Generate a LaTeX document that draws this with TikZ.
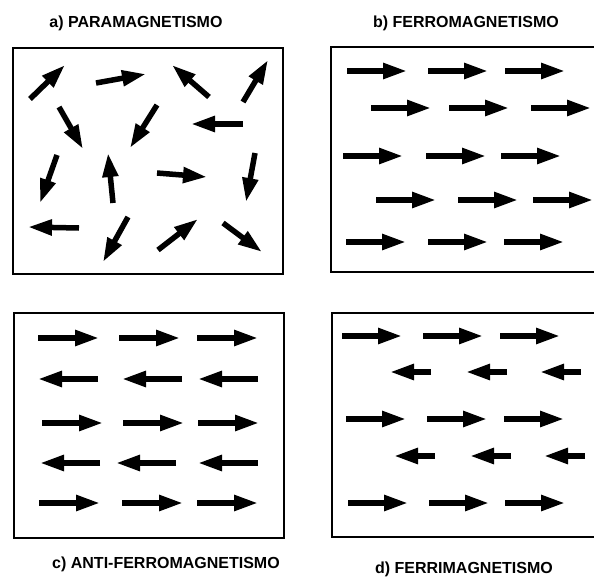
\documentclass[tikz,border=0pt]{standalone}
\usepackage{fontspec}
\setsansfont{Liberation Sans}
\usetikzlibrary{arrows.meta}

\begin{document}
\begin{tikzpicture}[
  x=1pt,y=-1pt,
  title/.style={font=\sffamily\bfseries\fontsize{16}{19}\selectfont,inner sep=0pt},
  frame/.style={line width=1.8pt},
  spin/.style={line width=5.5pt,-{Triangle[length=24pt,width=15pt]}}
]
\useasboundingbox (0,0) rectangle (594,578);
% titles
\node[title] (ta) at (136,23) {a) PARAMAGNETISMO};
\node[title] (tb) at (466,23) {b) FERROMAGNETISMO};
\node[title] (tc) at (166,564) {c) ANTI-FERROMAGNETISMO};
\node[title] (td) at (464,569) {d) FERRIMAGNETISMO};
% frames (b and d run off the right edge)
\draw[frame] (13,48) rectangle (283,274);
\draw[frame] (594,47) -- (331,47) -- (331,272) -- (594,272);
\draw[frame] (14,313) rectangle (284,538);
\draw[frame] (594,313) -- (332,313) -- (332,537) -- (594,537);
% a) random spins
\foreach \xa/\ya/\xb/\yb in {30/99/65/65, 96/83/146/74, 209/97/172/65, 243/102/268/60,
  59/107/83/149, 157/105/130/148, 243/124/191/124,
  57/155/40/203, 113/203/108/153, 157/173/207/177, 255/153/246/202,
  79/228/28/227, 128/217/103/262, 158/250/198/219, 223/223/262/252}
  \draw[spin] (\xa,\ya) -- (\xb,\yb);
% b) all parallel
\foreach \y/\xa/\xb/\xc in {71/347/428/505, 108/371/449/531, 156/343/426/501, 200/376/458/533, 242/346/428/504}
  \foreach \x in {\xa,\xb,\xc}
    \draw[spin] (\x,\y) -- ++(60,0);
% c) alternating rows
\foreach \y/\xa/\xb/\xc in {338/38/119/197, 423/42/123/198, 503/39/122/197}
  \foreach \x in {\xa,\xb,\xc}
    \draw[spin] (\x,\y) -- ++(61,0);
\foreach \y/\xa/\xb/\xc in {379/98/182/258, 463/100/176/258}
  \foreach \x in {\xa,\xb,\xc}
    \draw[spin] (\x,\y) -- ++(-60,0);
% d) unequal alternating rows
\foreach \y/\xa/\xb/\xc in {336/342/423/500, 419/346/427/504, 503/348/429/505}
  \foreach \x in {\xa,\xb,\xc}
    \draw[spin] (\x,\y) -- ++(60,0);
\foreach \y/\xa/\xb/\xc in {372/431/507/581, 456/435/511/585}
  \foreach \x in {\xa,\xb,\xc}
    \draw[spin] (\x,\y) -- ++(-41,0);
\end{tikzpicture}
\end{document}
